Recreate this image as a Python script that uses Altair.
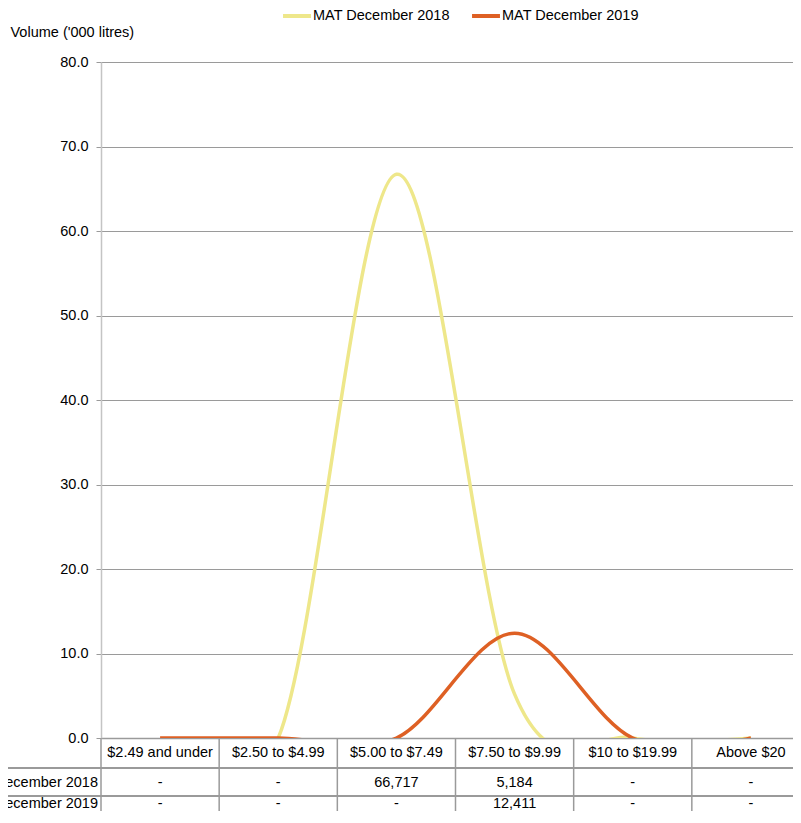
import altair as alt
import pandas as pd

categories = ["$2.49 and under", "$2.50 to $4.99", "$5.00 to $7.49",
              "$7.50 to $9.99", "$10 to $19.99", "Above $20"]
series_names = ["MAT December 2018", "MAT December 2019"]
vol_2018 = [0, 0, 66.717, 5.184, 0, 0]
vol_2019 = [0, 0, 0, 12.411, 0, 0]
colors = ["#EEE78A", "#DE6024"]
y_ticks = [0, 10, 20, 30, 40, 50, 60, 70, 80]

FONT = "Liberation Sans, Arial, sans-serif"
FS = 14.5

rows = []
for name, vals in zip(series_names, [vol_2018, vol_2019]):
    for c, v in zip(categories, vals):
        rows.append({"cat": c, "series": name, "value": v,
                     "label": "-" if v == 0 else f"{round(v * 1000):,}"})
df = pd.DataFrame(rows)
cat_df = pd.DataFrame({"cat": categories})

W, H = 692, 676
ROW_Y = [H + 45, H + 66]
xscale = alt.Scale(type="band", domain=categories, range=[0, 709],
                   paddingInner=0, paddingOuter=0)

base = alt.Chart(df)

lines = base.mark_line(interpolate="cardinal", clip=True, strokeWidth=3.5).encode(
    x=alt.X("cat:N", scale=xscale, sort=categories,
            axis=alt.Axis(title=None, labelAngle=0, labelFont=FONT, labelFontSize=FS,
                          labelColor="#000", ticks=False, domainColor="#9a9a9a",
                          domainWidth=1.5, labelPadding=7, labelLimit=200)),
    y=alt.Y("value:Q", scale=alt.Scale(domain=[0, 80], nice=False),
            axis=alt.Axis(values=y_ticks, format=".1f", title="Volume ('000 litres)",
                          titleAngle=0, titleAlign="left", titleBaseline="middle",
                          titleX=-91, titleY=-30, titleFont=FONT, titleFontSize=FS,
                          titleFontWeight="normal", titleColor="#000",
                          labelFont=FONT, labelFontSize=FS, labelColor="#000",
                          labelPadding=8, tickSize=5, tickColor="#9a9a9a",
                          gridColor="#9a9a9a", gridWidth=1.2,
                          domainColor="#c4c4c4", domainWidth=1.5)),
    color=alt.Color("series:N", scale=alt.Scale(domain=series_names, range=colors),
                    legend=alt.Legend(title=None, orient="none", direction="horizontal",
                                      legendX=180, legendY=-62, symbolType="stroke",
                                      symbolStrokeWidth=4, symbolSize=780,
                                      labelFont=FONT, labelFontSize=FS, labelColor="#000",
                                      labelOffset=0, columnPadding=14, padding=0,
                                      labelLimit=300)),
)

vlines = alt.Chart(cat_df).mark_rule(color="#9a9a9a", strokeWidth=1.5).encode(
    x=alt.X("cat:N", scale=xscale, sort=categories, bandPosition=0),
    y=alt.value(H), y2=alt.value(H + 100),
)

hrule_layers = [
    alt.Chart(cat_df).mark_rule(color="#9a9a9a", strokeWidth=1.5).encode(
        x=alt.value(-93), x2=alt.value(W + 20), y=alt.value(yv))
    for yv in [H + 30, H + 58]
]

tab_layers = []
for name, yv in zip(series_names, ROW_Y):
    tab_layers.append(
        base.transform_filter(alt.datum.series == name)
        .mark_text(font=FONT, fontSize=FS, color="#000", baseline="middle")
        .encode(x=alt.X("cat:N", scale=xscale, sort=categories),
                y=alt.value(yv), text="label:N"))
    tab_layers.append(
        alt.Chart(pd.DataFrame({"series": [name]}))
        .mark_text(font=FONT, fontSize=FS, color="#000", baseline="middle", align="right")
        .encode(x=alt.value(-3), y=alt.value(yv), text="series:N"))

chart = alt.layer(lines, vlines, *hrule_layers, *tab_layers).properties(
    width=W, height=H,
    autosize=alt.AutoSizeParams(type="none"),
    padding={"left": 93, "top": 54, "right": 0, "bottom": 73},
).configure_view(stroke=None).configure(background="white")

chart.save("out.html", embed_options={"renderer": "svg", "actions": False})
